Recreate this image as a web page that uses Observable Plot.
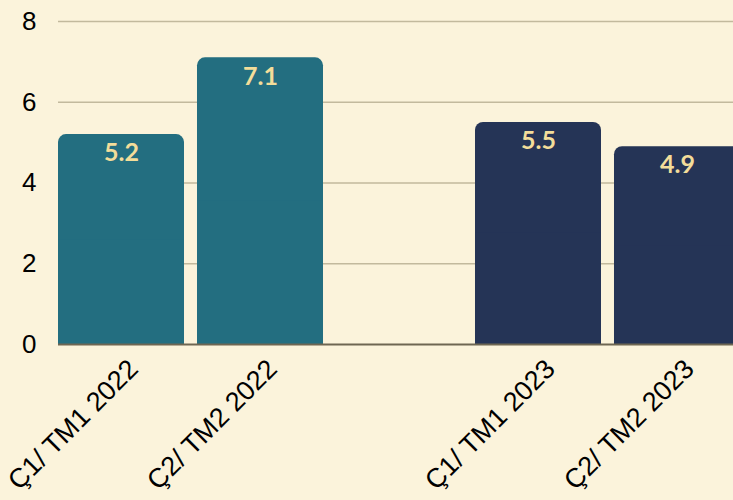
<!DOCTYPE html>
<html><head><meta charset="utf-8">
<script src="https://cdn.jsdelivr.net/npm/d3@7"></script>
<script src="https://cdn.jsdelivr.net/npm/@observablehq/plot@0.6"></script>
<style>
html,body{margin:0;padding:0;background:#FBF3DB;overflow:hidden}
</style></head><body><div id="chart"></div>
<script>
const categories = ["Ç1/ TM1 2022", "Ç2/ TM2 2022", "", "Ç1/ TM1 2023", "Ç2/ TM2 2023"];
const barCategories = ["Ç1/ TM1 2022", "Ç2/ TM2 2022", "Ç1/ TM1 2023", "Ç2/ TM2 2023"];
const values = [5.2, 7.1, 5.5, 4.9];
const years = ["2022", "2022", "2023", "2023"];
const yTicks = [0, 2, 4, 6, 8];
const gridTicks = [2, 4, 6, 8];

const data = barCategories.map((c, i) => ({category: c, value: values[i], year: years[i]}));

const chart = Plot.plot({
  width: 733, height: 500,
  marginLeft: 58, marginRight: 0, marginTop: 21, marginBottom: 156,
  style: {background: "#FBF3DB", fontFamily: "Arial, 'Liberation Sans', sans-serif", color: "#000", overflow: "hidden"},
  x: {domain: categories, range: [58, 740], paddingInner: 0.0935, paddingOuter: 0, align: 0, round: false, label: null},
  y: {domain: [0, 8], label: null},
  color: {domain: ["2022", "2023"], range: ["#236E80", "#253456"]},
  marks: [
    Plot.ruleY(gridTicks, {stroke: "#C2B99D", strokeWidth: 1.3}),
    Plot.barY(data, {x: "category", y: "value", fill: "year", rx: 8}),
    Plot.barY(data, {x: "category", y1: 0, y2: d => d.value / 2, fill: "year"}),
    Plot.ruleY([0], {stroke: "#6E6652", strokeWidth: 2}),
    Plot.text(data, {x: "category", y: "value", text: d => d.value.toFixed(1), fill: "#F3DD9A", fontWeight: "bold", fontFamily: "Lato, sans-serif", fontSize: 25, lineAnchor: "top", dy: 9}),
    Plot.axisY({ticks: yTicks, tickSize: 0, tickPadding: 22, fontSize: 26, label: null, fill: "#000"}),
    Plot.axisX({tickSize: 0, tickRotate: -45, tickPadding: 20, dx: 12, fontSize: 27, label: null, fill: "#000"})
  ]
});
document.getElementById("chart").appendChild(chart);
</script>
</body></html>
